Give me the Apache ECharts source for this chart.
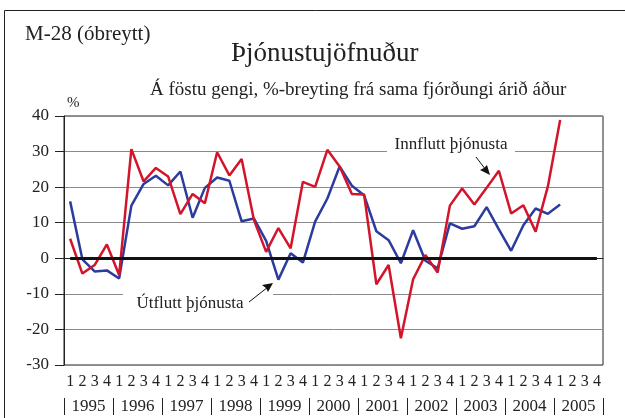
<!DOCTYPE html>
<html>
<head>
<meta charset="utf-8">
<script src="https://cdn.jsdelivr.net/npm/echarts@6/dist/echarts.min.js"></script>
<style>
  html, body { margin: 0; padding: 0; background: #fff; }
  #chart { width: 625px; height: 418px; }
</style>
</head>
<body>
<div id="chart"></div>
<script>
// ársfjórðungar 1995-2005
var years = ['1995','1996','1997','1998','1999','2000','2001','2002','2003','2004','2005'];
var quarters = [];
years.forEach(function (y) { ['1','2','3','4'].forEach(function (q) { quarters.push(y + '-' + q); }); });

// Innflutt þjónusta (rauð)
var innflutt = [5.5,-4.3,-1.9,3.9,-4.7,30.7,21.6,25.4,23.0,12.4,18.1,15.5,29.8,23.3,27.9,10.8,
                1.8,8.5,2.8,21.5,20.1,30.5,25.8,18.1,17.9,-7.3,-1.9,-22.5,-5.9,0.9,-4.0,14.8,
                19.6,15.1,19.8,24.6,12.6,14.9,7.5,20.2,38.9];
// Útflutt þjónusta (blá)
var utflutt = [16.0,-0.3,-3.7,-3.4,-5.7,14.8,20.9,23.2,20.5,24.4,11.4,19.8,22.7,21.8,10.4,11.2,
               4.9,-6.0,1.4,-1.2,10.3,16.8,25.8,20.4,17.7,7.6,5.1,-1.4,7.9,-0.7,-2.8,9.8,
               8.3,9.0,14.4,8.1,2.1,9.3,14.0,12.5,15.1];

var serif = "'Liberation Serif', 'Times New Roman', serif";
var myCharts = echarts.init(document.getElementById('chart'), null, { renderer: 'canvas' });

var option = {
    animation: false,
    backgroundColor: '#fff',
    textStyle: { fontFamily: serif },
    title: [
        { text: 'M-28 (óbreytt)', left: 20, top: 19, textStyle: { fontFamily: serif, fontSize: 21, fontWeight: 'normal', color: '#222' } },
        { text: 'Þjónustujöfnuður', left: 226, top: 35, textStyle: { fontFamily: serif, fontSize: 27, fontWeight: 'normal', color: '#222' } },
        { text: 'Á föstu gengi, %-breyting frá sama fjórðungi árið áður', left: 145, top: 76, textStyle: { fontFamily: serif, fontSize: 19, fontWeight: 'normal', color: '#222' } },
        { text: '%', left: 62, top: 91, textStyle: { fontFamily: serif, fontSize: 15, fontWeight: 'normal', color: '#222' } }
    ],
    grid: {
        left: 64, top: 116, right: 22, bottom: 53,
        show: true, borderColor: '#222', borderWidth: 1
    },
    xAxis: [
        {
            type: 'category',
            data: quarters,
            boundaryGap: true,
            axisLine: { lineStyle: { color: '#222' } },
            axisTick: { show: false },
            axisLabel: {
                interval: 0, margin: 9, fontFamily: serif, fontSize: 16, color: '#222',
                formatter: function (v) { return v.split('-')[1]; }
            },
            splitLine: { show: false }
        },
        {
            type: 'category',
            data: years,
            position: 'bottom',
            offset: 33,
            boundaryGap: true,
            axisLine: { show: false },
            axisTick: { show: true, length: 17, lineStyle: { color: '#222' } },
            axisLabel: { interval: 0, margin: 0, fontFamily: serif, fontSize: 17, color: '#222' },
            splitLine: { show: false }
        }
    ],
    yAxis: {
        type: 'value',
        min: -30, max: 40, interval: 10,
        axisLine: { show: true, lineStyle: { color: '#222' } },
        axisTick: { show: true, length: 9, lineStyle: { color: '#222' } },
        axisLabel: { margin: 15, fontFamily: serif, fontSize: 17, color: '#222' },
        splitLine: { lineStyle: { color: '#8a8a8a', width: 1 } }
    },
    series: [
        {
            name: 'Útflutt þjónusta',
            type: 'line',
            data: utflutt,
            symbol: 'none',
            lineStyle: { color: '#2b3c9e', width: 2.5 },
            markLine: {
                silent: true, symbol: 'none',
                label: { show: false },
                lineStyle: { color: '#111', width: 3, type: 'solid' },
                data: [[{ coord: [quarters[0], 0] }, { coord: [quarters[quarters.length - 1], 0] }]]
            },
            z: 3
        },
        {
            name: 'Innflutt þjónusta',
            type: 'line',
            data: innflutt,
            symbol: 'none',
            lineStyle: { color: '#d2152b', width: 2.5 },
            z: 4
        }
    ],
    graphic: [
        // ytri rammi
        { type: 'rect', shape: { x: 4.5, y: 10.5, width: 700, height: 500 }, style: { fill: null, stroke: '#222', lineWidth: 1 }, z: 0, silent: true },
        // Innflutt
        { type: 'rect', shape: { x: 387, y: 146, width: 128, height: 12 }, style: { fill: '#fff' }, z: 10 },
        { type: 'text', x: 451, y: 145, style: { text: 'Innflutt þjónusta', fontFamily: serif, fontSize: 17, fill: '#222', align: 'center', verticalAlign: 'middle' }, z: 11 },
        { type: 'line', shape: { x1: 476, y1: 157, x2: 486, y2: 170 }, style: { stroke: '#111', lineWidth: 1 }, z: 11 },
        { type: 'polygon', shape: { points: [[490, 175], [480, 170], [484, 168], [487, 165]] }, style: { fill: '#111' }, z: 11 },
        // Útflutt
        { type: 'rect', shape: { x: 123, y: 288, width: 150, height: 12 }, style: { fill: '#fff' }, z: 10 },
        { type: 'text', x: 190, y: 304, style: { text: 'Útflutt þjónusta', fontFamily: serif, fontSize: 17, fill: '#222', align: 'center', verticalAlign: 'middle' }, z: 11 },
        { type: 'line', shape: { x1: 249, y1: 302, x2: 268, y2: 287 }, style: { stroke: '#111', lineWidth: 1 }, z: 11 },
        { type: 'polygon', shape: { points: [[273, 283], [262, 285], [266, 288], [268, 292]] }, style: { fill: '#111' }, z: 11 }
    ]
};
myCharts.setOption(option);
</script>
</body>
</html>
